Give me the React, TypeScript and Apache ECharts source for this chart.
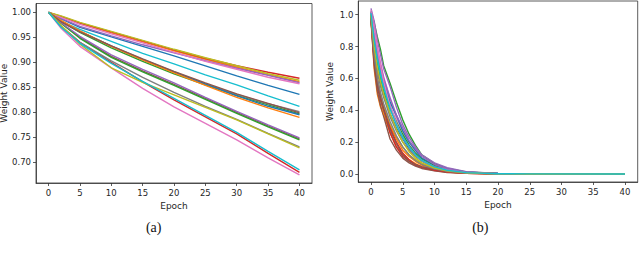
import { useEffect, useRef } from 'react';
import * as echarts from 'echarts';

const tab10 = ['#1f77b4', '#ff7f0e', '#2ca02c', '#d62728', '#9467bd', '#8c564b', '#e377c2', '#7f7f7f', '#bcbd22', '#17becf'];

const xTicks = [0, 5, 10, 15, 20, 25, 30, 35, 40];
const leftYTicks = [0.7, 0.75, 0.8, 0.85, 0.9, 0.95, 1.0];
const rightYTicks = [0, 0.2, 0.4, 0.6, 0.8, 1.0];

// Panel (a): weight value at these epochs, one row per line
const leftEpochs = [0, 2, 5, 10, 15, 20, 25, 30, 35, 40];
const leftLines = [
  [1.0, 0.987, 0.970, 0.951, 0.932, 0.913, 0.893, 0.873, 0.854, 0.836],
  [1.0, 0.991, 0.978, 0.959, 0.941, 0.923, 0.906, 0.890, 0.875, 0.861],
  [1.0, 0.982, 0.960, 0.929, 0.902, 0.877, 0.855, 0.834, 0.815, 0.797],
  [1.0, 0.992, 0.979, 0.961, 0.943, 0.925, 0.908, 0.893, 0.880, 0.868],
  [1.0, 0.988, 0.972, 0.953, 0.935, 0.919, 0.903, 0.888, 0.874, 0.859],
  [1.0, 0.978, 0.950, 0.912, 0.883, 0.856, 0.828, 0.800, 0.773, 0.747],
  [1.0, 0.990, 0.976, 0.957, 0.939, 0.920, 0.902, 0.886, 0.870, 0.857],
  [1.0, 0.982, 0.962, 0.932, 0.905, 0.880, 0.857, 0.836, 0.817, 0.801],
  [1.0, 0.993, 0.980, 0.962, 0.944, 0.926, 0.909, 0.893, 0.877, 0.864],
  [1.0, 0.982, 0.966, 0.942, 0.918, 0.897, 0.875, 0.855, 0.833, 0.812],
  [1.0, 0.983, 0.962, 0.933, 0.906, 0.881, 0.857, 0.833, 0.812, 0.795],
  [1.0, 0.984, 0.963, 0.932, 0.905, 0.879, 0.854, 0.830, 0.809, 0.790],
  [1.0, 0.978, 0.948, 0.910, 0.881, 0.854, 0.826, 0.798, 0.771, 0.745],
  [1.0, 0.972, 0.940, 0.900, 0.861, 0.825, 0.791, 0.757, 0.718, 0.680],
  [1.0, 0.979, 0.952, 0.915, 0.886, 0.859, 0.830, 0.802, 0.775, 0.749],
  [1.0, 0.981, 0.961, 0.933, 0.907, 0.882, 0.859, 0.837, 0.818, 0.799],
  [1.0, 0.968, 0.932, 0.889, 0.848, 0.811, 0.778, 0.745, 0.709, 0.675],
  [1.0, 0.972, 0.940, 0.903, 0.870, 0.840, 0.812, 0.786, 0.758, 0.731],
  [1.0, 0.974, 0.936, 0.889, 0.860, 0.835, 0.810, 0.785, 0.757, 0.729],
  [1.0, 0.970, 0.938, 0.898, 0.862, 0.828, 0.794, 0.760, 0.722, 0.685],
];

// Panel (b)
const rightEpochs = [0, 0.5, 1, 1.5, 2, 3, 4, 5, 6, 7, 8, 10, 12, 15, 20, 25, 40];
const rightLines = [
  [1.0, 0.8, 0.66, 0.57, 0.5, 0.38, 0.29, 0.22, 0.16, 0.12, 0.085, 0.045, 0.025, 0.009, 0.002, 0.0005, 0],
  [0.98, 0.66, 0.5, 0.42, 0.37, 0.26, 0.17, 0.13, 0.09, 0.065, 0.045, 0.025, 0.012, 0.005, 0.001, 0, 0],
  [1.02, 0.95, 0.86, 0.78, 0.68, 0.57, 0.45, 0.34, 0.25, 0.18, 0.12, 0.065, 0.035, 0.013, 0.003, 0.001, 0],
  [0.97, 0.7, 0.55, 0.46, 0.4, 0.26, 0.17, 0.11, 0.08, 0.055, 0.04, 0.022, 0.012, 0.005, 0.001, 0, 0],
  [1.04, 0.96, 0.84, 0.75, 0.66, 0.55, 0.42, 0.31, 0.23, 0.17, 0.12, 0.07, 0.04, 0.015, 0.004, 0.001, 0],
  [0.96, 0.68, 0.52, 0.43, 0.36, 0.22, 0.15, 0.1, 0.07, 0.05, 0.035, 0.02, 0.01, 0.004, 0.001, 0, 0],
  [1.03, 0.93, 0.8, 0.7, 0.61, 0.47, 0.35, 0.27, 0.2, 0.14, 0.1, 0.055, 0.03, 0.011, 0.003, 0.001, 0],
  [1.0, 0.78, 0.64, 0.55, 0.48, 0.36, 0.27, 0.2, 0.15, 0.11, 0.08, 0.042, 0.022, 0.008, 0.002, 0, 0],
  [0.99, 0.74, 0.6, 0.5, 0.43, 0.31, 0.23, 0.17, 0.12, 0.09, 0.065, 0.035, 0.018, 0.007, 0.002, 0, 0],
  [1.01, 0.86, 0.73, 0.64, 0.56, 0.43, 0.32, 0.24, 0.18, 0.13, 0.095, 0.05, 0.028, 0.01, 0.003, 0.001, 0],
  [1.02, 0.9, 0.77, 0.67, 0.59, 0.45, 0.37, 0.27, 0.2, 0.15, 0.1, 0.055, 0.03, 0.011, 0.003, 0.001, 0],
  [0.99, 0.76, 0.6, 0.48, 0.38, 0.3, 0.22, 0.15, 0.11, 0.08, 0.055, 0.03, 0.016, 0.006, 0.002, 0, 0],
  [1.0, 0.82, 0.7, 0.6, 0.52, 0.41, 0.33, 0.25, 0.18, 0.13, 0.09, 0.05, 0.026, 0.009, 0.002, 0, 0],
  [0.98, 0.72, 0.58, 0.48, 0.41, 0.29, 0.2, 0.13, 0.09, 0.06, 0.045, 0.025, 0.014, 0.005, 0.001, 0, 0],
  [1.01, 0.88, 0.76, 0.68, 0.6, 0.48, 0.37, 0.29, 0.21, 0.16, 0.11, 0.06, 0.033, 0.012, 0.003, 0.001, 0],
  [0.97, 0.72, 0.57, 0.47, 0.4, 0.28, 0.19, 0.12, 0.08, 0.06, 0.045, 0.03, 0.018, 0.007, 0.002, 0, 0],
  [1.02, 0.91, 0.79, 0.68, 0.58, 0.43, 0.32, 0.23, 0.17, 0.12, 0.085, 0.045, 0.025, 0.009, 0.002, 0, 0],
  [0.98, 0.75, 0.6, 0.51, 0.44, 0.33, 0.24, 0.17, 0.12, 0.085, 0.06, 0.032, 0.017, 0.006, 0.001, 0, 0],
  [1.0, 0.8, 0.67, 0.58, 0.5, 0.38, 0.28, 0.2, 0.14, 0.1, 0.07, 0.038, 0.02, 0.007, 0.002, 0, 0],
  [1.01, 0.84, 0.72, 0.62, 0.54, 0.41, 0.31, 0.23, 0.17, 0.12, 0.085, 0.045, 0.024, 0.009, 0.002, 0.001, 0],
];

const FONT = 'DejaVu Sans';
const INK = '#262626';
const SPINE = '#333333';

export default function App() {
  const ref = useRef<HTMLDivElement>(null);
  useEffect(() => {
    document.body.style.margin = '0';
    const chart = echarts.init(ref.current!, null, { renderer: 'svg' });

    const xAxis = (gridIndex: number) => ({
      type: 'value',
      gridIndex,
      min: -2,
      max: 42,
      name: 'Epoch',
      nameLocation: 'middle',
      nameGap: 15,
      nameTextStyle: { fontSize: 9, fontFamily: FONT, color: INK },
      axisLine: { show: true, onZero: false, lineStyle: { color: SPINE, width: 0.8 } },
      axisTick: { show: true, length: 3, customValues: xTicks, lineStyle: { color: SPINE, width: 0.8 } },
      axisLabel: { fontSize: 8.5, fontFamily: FONT, color: INK, margin: 5, customValues: xTicks, formatter: (v: number) => String(v) },
      splitLine: { show: false },
    });

    const yAxis = (gridIndex: number, min: number, max: number, ticks: number[], digits: number, gap: number) => ({
      type: 'value',
      gridIndex,
      min,
      max,
      name: 'Weight Value',
      nameLocation: 'middle',
      nameGap: gap,
      nameTextStyle: { fontSize: 9, fontFamily: FONT, color: INK },
      axisLine: { show: true, onZero: false, lineStyle: { color: SPINE, width: 0.8 } },
      axisTick: { show: true, length: 3, customValues: ticks, lineStyle: { color: SPINE, width: 0.8 } },
      axisLabel: { fontSize: 8.5, fontFamily: FONT, color: INK, margin: 5, customValues: ticks, formatter: (v: number) => v.toFixed(digits) },
      splitLine: { show: false },
    });

    const series: any[] = [];
    leftLines.forEach((vals, i) => {
      series.push({
        type: 'line', xAxisIndex: 0, yAxisIndex: 0, showSymbol: false, silent: true,
        data: vals.map((v, j) => [leftEpochs[j], v]),
        lineStyle: { width: 1.4, color: tab10[i % 10] }, itemStyle: { color: tab10[i % 10] },
      });
    });
    rightLines.forEach((vals, i) => {
      series.push({
        type: 'line', xAxisIndex: 1, yAxisIndex: 1, showSymbol: false, silent: true,
        data: vals.map((v, j) => [rightEpochs[j], v]),
        lineStyle: { width: 1.4, color: tab10[i % 10] }, itemStyle: { color: tab10[i % 10] },
      });
    });

    chart.setOption({
      animation: false,
      backgroundColor: '#ffffff',
      grid: [
        { left: 36, top: 3.5, width: 276, height: 179.5, show: true, borderColor: SPINE, borderWidth: 0.8, containLabel: false, outerBoundsMode: 'none' },
        { left: 358.3, top: 1, width: 279.4, height: 181, show: true, borderColor: SPINE, borderWidth: 0.8, containLabel: false, outerBoundsMode: 'none' },
      ],
      xAxis: [xAxis(0), xAxis(1)],
      yAxis: [
        yAxis(0, 0.6586, 1.0176, leftYTicks, 2, 27),
        yAxis(1, -0.05, 1.086, rightYTicks, 1, 24),
      ],
      graphic: [
        { type: 'text', x: 153.7, y: 227, style: { text: '(a)', font: '14px "Liberation Serif"', fill: '#111', textAlign: 'center', align: 'center', textVerticalAlign: 'middle', verticalAlign: 'middle' } },
        { type: 'text', x: 480.3, y: 227, style: { text: '(b)', font: '14px "Liberation Serif"', fill: '#111', textAlign: 'center', align: 'center', textVerticalAlign: 'middle', verticalAlign: 'middle' } },
      ],
      series,
    });
    return () => chart.dispose();
  }, []);
  return <div ref={ref} style={{ width: 640, height: 253 }} />;
}
